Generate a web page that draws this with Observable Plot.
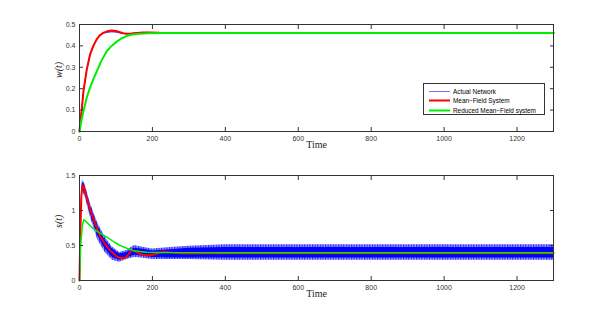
<!DOCTYPE html>
<html><head><meta charset="utf-8">
<script src="https://cdn.jsdelivr.net/npm/d3@7"></script>
<script src="https://cdn.jsdelivr.net/npm/@observablehq/plot@0.6"></script>
<style>
body{margin:0;background:#fff;}
#wrap{position:relative;width:611px;height:316px;overflow:hidden;}
#wrap svg{display:block;}
#legend{position:absolute;left:423px;top:83px;width:120px;height:30px;border:1px solid #333;background:#fff;font:6.4px "Liberation Sans",Arial,sans-serif;}
.row{position:absolute;left:0;height:9px;line-height:9px;}
.row svg{position:absolute;left:5px;top:0;}
.row span{position:absolute;left:29px;white-space:nowrap;color:#000;}
</style></head>
<body><div id="wrap"><div id="topPanel"></div><div id="botPanel"></div>
<div id="legend"></div></div>
<svg width="0" height="0" style="position:absolute">
  <defs>
    <pattern id="hatch" width="2.6" height="4" patternUnits="userSpaceOnUse">
      <rect width="2.6" height="4" fill="#9a9aff"/>
      <rect width="1.2" height="4" fill="#2a2aff"/>
    </pattern>
  </defs>
</svg>
<script>
// ---- data ----
const xTicks = [0,200,400,600,800,1000,1200];
const wTicks = [0,0.1,0.2,0.3,0.4,0.5];
const sTicks = [0,0.5,1,1.5];
const seriesNames = ["Actual Network","Mean\u2212Field System","Reduced Mean\u2212Field system"];
const seriesColors = ["#0000ff","#ff0000","#00ee00"];

// top panel w(t)
const wRedT   = [0,3,6,11,20,29,38,47,56,65,76,88,100,111,120,129,142,156,175,193,220,260,300,1300];
const wRedV   = [0,0.06,0.10,0.19,0.29,0.36,0.40,0.43,0.45,0.461,0.468,0.472,0.470,0.464,0.459,0.457,0.458,0.460,0.463,0.463,0.461,0.460,0.460,0.460];
const wBlueT  = [0,3,6,11,20,29,38,47,56,65,76,88,100,111,120,129,142,156,175,193,220,260,300,1300];
const wBlueV  = [0,0.06,0.10,0.19,0.29,0.36,0.40,0.43,0.45,0.459,0.464,0.466,0.465,0.461,0.458,0.457,0.458,0.460,0.461,0.461,0.460,0.460,0.460,0.460];
const wGreenT = [0,5,11,20,29,38,47,60,75,88,102,115,129,145,165,190,230,1300];
const wGreenV = [0,0.05,0.096,0.16,0.205,0.245,0.28,0.33,0.376,0.40,0.42,0.435,0.446,0.453,0.457,0.459,0.460,0.460];

// bottom panel s(t)
const sRedT   = [0,2,5,8,12,20,30,45,56,70,84,100,111,125,135,143,155,165,180,193,210,229,250,280,1300];
const sRedV   = [0,0.6,1.2,1.36,1.33,1.18,1.0,0.78,0.64,0.52,0.43,0.35,0.32,0.32,0.38,0.43,0.41,0.38,0.36,0.36,0.38,0.41,0.40,0.39,0.39];
const sGreenT = [0,3,8,12,20,38,55,75,95,111,130,147,165,184,220,440,1300];
const sGreenV = [0,0.5,0.8,0.87,0.83,0.74,0.68,0.62,0.55,0.50,0.46,0.43,0.415,0.405,0.40,0.395,0.395];
// actual network: oscillating band envelopes (outer = faint extremes, inner = dense core)
const bandT     = [0,3,8,15,30,50,70,90,110,130,150,170,200,250,300,400,1300];
const outerHigh = [0,1.0,1.44,1.38,1.10,0.82,0.62,0.48,0.40,0.43,0.50,0.48,0.45,0.47,0.49,0.51,0.51];
const outerLow  = [0,0.85,1.28,1.20,0.90,0.58,0.40,0.29,0.26,0.30,0.33,0.32,0.30,0.30,0.30,0.29,0.29];
const innerHigh = [0,0.95,1.40,1.35,1.06,0.78,0.58,0.45,0.38,0.40,0.46,0.45,0.42,0.44,0.46,0.47,0.47];
const innerLow  = [0,0.90,1.32,1.25,0.95,0.64,0.45,0.33,0.29,0.32,0.36,0.35,0.33,0.32,0.32,0.32,0.32];

const zip = (t, v) => t.map((x,i) => ({t:x, v:v[i]}));
const band = bandT.map((t,i) => ({t, oh:outerHigh[i], ol:outerLow[i], ih:innerHigh[i], il:innerLow[i]}));

const tickFont = {fontSize: 7, fontFamily: '"Liberation Sans", Arial, sans-serif', color: "#333"};
function frameAxes(yTicks, yFmt) {
  return [
    Plot.frame({stroke: "#333", strokeWidth: 1}),
    Plot.axisX({anchor: "bottom", ticks: xTicks, tickSize: -4, tickPadding: 9, tickFormat: d3.format("d"), label: null, ...tickFont}),
    Plot.axisX({anchor: "top", ticks: xTicks, tickSize: -4, tickFormat: () => "", label: null, color: "#333"}),
    Plot.axisY({anchor: "left", ticks: yTicks, tickSize: -4, tickPadding: 8, tickFormat: yFmt, label: null, ...tickFont}),
    Plot.axisY({anchor: "right", ticks: yTicks, tickSize: -4, tickFormat: () => "", label: null, color: "#333"})
  ];
}
const serif = '"Liberation Serif", "DejaVu Serif", serif';

const topChart = Plot.plot({
  width: 611, height: 158,
  marginLeft: 79, marginRight: 58, marginTop: 24, marginBottom: 27,
  x: {domain: [0,1300]}, y: {domain: [0,0.5]},
  style: {background: "#fff", overflow: "visible"},
  marks: [
    Plot.line(zip(wBlueT, wBlueV), {x:"t", y:"v", stroke: seriesColors[0], strokeWidth: 1}),
    Plot.line(zip(wRedT, wRedV), {x:"t", y:"v", stroke: seriesColors[1], strokeWidth: 2}),
    Plot.line(zip(wGreenT, wGreenV), {x:"t", y:"v", stroke: seriesColors[2], strokeWidth: 2}),
    ...frameAxes(wTicks, d => d === 0 ? "0" : d3.format(".1f")(d)),
    Plot.text(["w(t)"], {frameAnchor: "left", dx: -21, rotate: -90, fontSize: 10, fontStyle: "italic", fontFamily: serif, fill: "#222"}),
    Plot.text(["Time"], {frameAnchor: "bottom", dy: 16, fontSize: 10, fontFamily: serif, fill: "#222"})
  ]
});

const botChart = Plot.plot({
  width: 611, height: 158,
  marginLeft: 79, marginRight: 58, marginTop: 17, marginBottom: 36,
  x: {domain: [0,1300]}, y: {domain: [0,1.5]},
  style: {background: "#fff", overflow: "visible"},
  marks: [
    Plot.areaY(band, {x:"t", y1:"ol", y2:"oh", fill: "url(#hatch)", curve: "linear"}),
    Plot.areaY(band, {x:"t", y1:"il", y2:"ih", fill: "#0000ff", curve: "linear"}),
    Plot.line(zip(sRedT, sRedV), {x:"t", y:"v", stroke: seriesColors[1], strokeWidth: 2}),
    Plot.line(zip(sGreenT, sGreenV), {x:"t", y:"v", stroke: seriesColors[2], strokeWidth: 1.5}),
    ...frameAxes(sTicks, d => d3.format("")(d)),
    Plot.text(["s(t)"], {frameAnchor: "left", dx: -21, rotate: -90, fontSize: 10, fontStyle: "italic", fontFamily: serif, fill: "#222"}),
    Plot.text(["Time"], {frameAnchor: "bottom", dy: 16, fontSize: 10, fontFamily: serif, fill: "#222"})
  ]
});

document.getElementById("topPanel").appendChild(topChart);
document.getElementById("botPanel").appendChild(botChart);

// legend
const lg = document.getElementById("legend");
const widths = [1, 2, 2];
const legColors = ["#7070ff", seriesColors[1], seriesColors[2]];
seriesNames.forEach((name, i) => {
  const row = document.createElement("div");
  row.className = "row";
  row.style.top = (3 + i * 9.3) + "px";
  row.innerHTML = `<svg width="22" height="9"><line x1="0" x2="21" y1="4.5" y2="4.5" stroke="${legColors[i]}" stroke-width="${widths[i]}"/></svg><span>${name}</span>`;
  lg.appendChild(row);
});
</script></body></html>
